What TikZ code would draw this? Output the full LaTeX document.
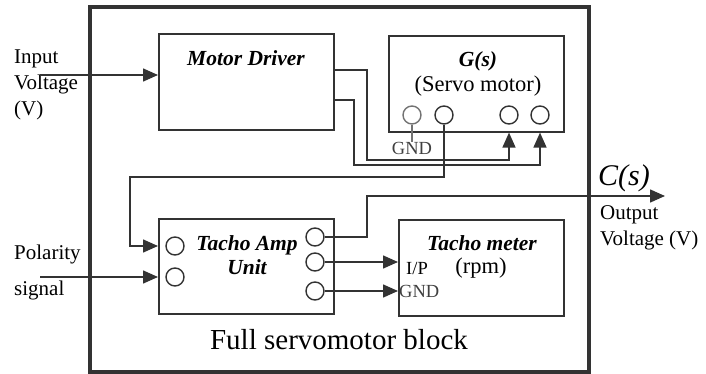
\documentclass[tikz,border=0pt]{standalone}
\usepackage{fontspec}
\setmainfont{Liberation Serif}
\usetikzlibrary{arrows.meta,positioning,calc}

\definecolor{wire}{HTML}{333333}

\begin{document}
\begin{tikzpicture}[x=1pt,y=-1pt,
    every node/.style={inner sep=0pt, text=black},
    blk/.style={draw=wire, line width=1.6pt, anchor=north west},
    pin/.style={draw=wire, circle, line width=1.4pt, minimum size=18pt},
    sig/.style={draw=wire, line width=1.5pt},
    arr/.style={sig, -{Triangle[length=15pt,width=13pt]}},
    lbl/.style={font=\fontsize{21}{26}\selectfont, align=left},
    ttl/.style={font=\fontsize{21.5}{24}\selectfont\bfseries\itshape, align=center},
    tiny/.style={font=\fontsize{18.5}{20}\selectfont, text=black!75}]
\useasboundingbox (0,0) rectangle (706,374);

% outer block
\draw[wire, line width=3.4pt] (90,7) rectangle (589,372);
\node[font=\fontsize{29}{31}\selectfont] (full) at (339,340) {Full servomotor block};

% blocks
\node[blk, minimum width=175pt, minimum height=96pt] (drv) at (158,33) {};
\node[blk, minimum width=175pt, minimum height=96pt] (gs)  at (388,35) {};
\node[blk, minimum width=175pt, minimum height=95pt] (amp) at (158,218) {};
\node[blk, minimum width=165pt, minimum height=96pt] (tm)  at (398,219) {};

\node[ttl] (drvT) at (246,58) {Motor Driver};
\node[ttl] (gsT) at (478,61) {G(s)};
\node[font=\fontsize{22.5}{24}\selectfont] (gsS) at (478,86) {(Servo motor)};
\node[ttl] (ampT) at (247,255) {Tacho Amp\\Unit};
\node[ttl] (tmT) at (482,243) {Tacho meter};
\node[font=\fontsize{22.5}{24}\selectfont] (rpm) at (481,268) {(rpm)};
\node[font=\fontsize{18.5}{20}\selectfont, anchor=west] (ip) at (406,268) {I/P};
\node[tiny, anchor=west] (tmG) at (399,291) {GND};

% terminals
\node[pin, draw=black!55] (gs1) at (412,115) {};
\node[pin] (gs2) at (444,115) {};
\node[pin] (gs3) at (509,115) {};
\node[pin] (gs4) at (540,115) {};
\node[pin] (ampL1) at (175,246) {};
\node[pin] (ampL2) at (175,277) {};
\node[pin] (ampR1) at (315,237) {};
\node[pin] (ampR2) at (315,262) {};
\node[pin] (ampR3) at (315,291) {};
\node[tiny] (gsG) at (412,148) {GND};
\draw[black!55, line width=1.3pt] (gs1.south) -- (gsG.north);

% inputs
\coordinate (inV) at (40,75);
\coordinate (inP) at (40,277);
\node[lbl, anchor=west] (inVT) at (14,85) {Input\\Voltage\\(V)};
\node[lbl, anchor=west] (polT) at (14,254) {Polarity};
\node[lbl, anchor=west] (sigT) at (14,290) {signal};
\draw[arr] (inV) -- (inV -| drv.west);
\draw[arr] (inP) -- (inP -| amp.west);

% driver to motor
\draw[arr] ($(drv.north east)+(0,37)$) -| (367,160) -| (gs3 |- gs.south);
\draw[arr] ($(drv.north east)+(0,67)$) -| (354,165) -| (gs4 |- gs.south);

% motor to tacho amp
\draw[arr] (gs2.south) |- (130,177) |- (amp.west |- ampL1);

% tacho amp to tacho meter
\draw[arr] (ampR2.east) -- (tm.west |- ampR2);
\draw[arr] (ampR3.east) -- (tm.west |- ampR3);

% output
\coordinate (cout) at (665,196);
\draw[arr] (ampR1.east) -| (367,196) -- (cout);
\node[font=\fontsize{30}{32}\selectfont\itshape, anchor=west] (cT) at (598,178) {C(s)};
\node[lbl, anchor=west] (outT) at (600,228) {Output\\Voltage (V)};
\end{tikzpicture}
\end{document}
